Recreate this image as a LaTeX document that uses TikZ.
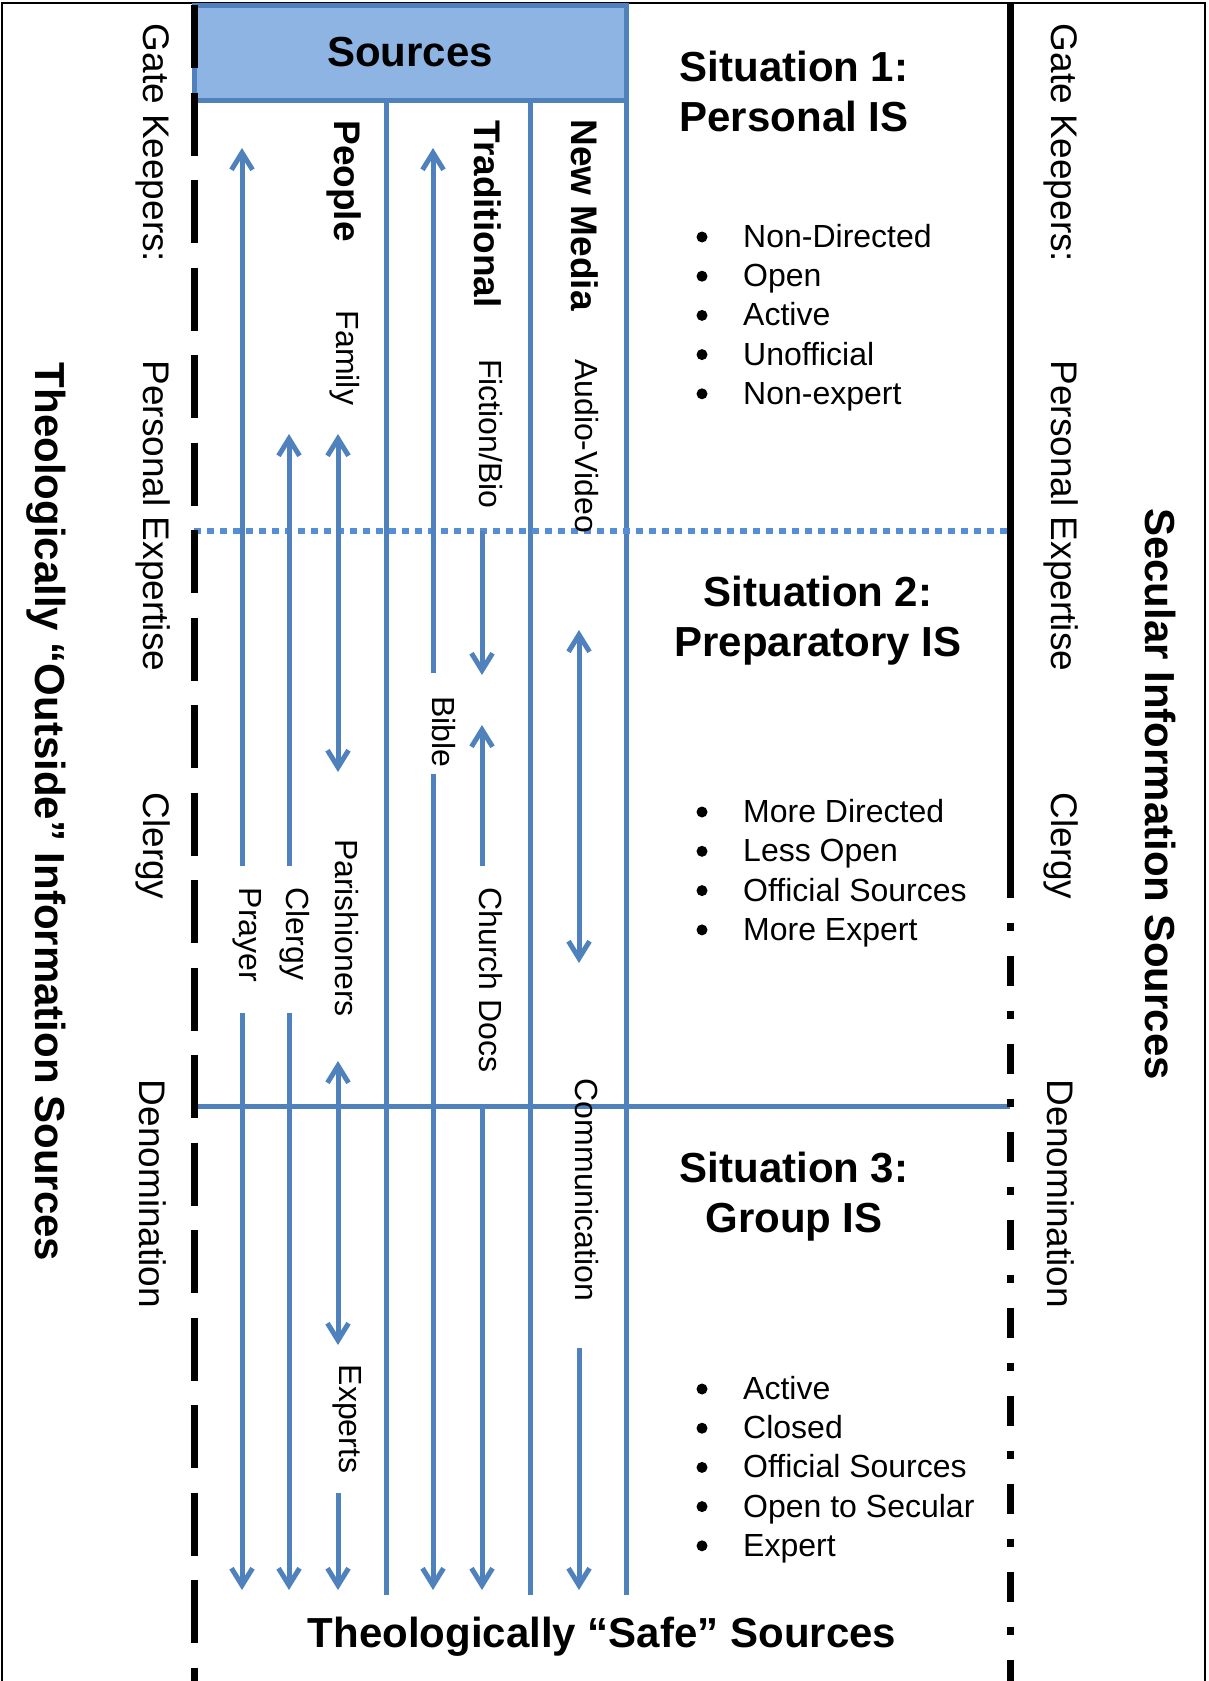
\documentclass[tikz,border=0pt]{standalone}
\usepackage{fontspec}
\setmainfont{Liberation Sans}
\usetikzlibrary{arrows.meta}
\definecolor{isblue}{RGB}{79,129,189}
\definecolor{islight}{RGB}{142,180,227}
\definecolor{isdot}{RGB}{85,142,213}

\begin{document}
\begin{tikzpicture}[x=1pt,y=-1pt,
  flow/.style={draw=isblue, line width=5pt},
  tip/.style={-{Straight Barb[length=17pt,width=21pt]}},
  both/.style={{Straight Barb[length=17pt,width=21pt]}-{Straight Barb[length=17pt,width=21pt]}},
  gate/.style={rotate=-90, inner sep=0pt, font=\fontsize{37}{40}\selectfont},
  src/.style={rotate=-90, inner sep=0pt, font=\fontsize{32}{36}\selectfont},
  head/.style={rotate=-90, inner sep=0pt, font=\fontsize{37}{40}\selectfont\bfseries},
  side/.style={rotate=-90, inner sep=0pt, font=\fontsize{42}{48}\selectfont\bfseries},
  title/.style={align=center, inner sep=0pt, font=\fontsize{42}{50}\selectfont\bfseries},
  item/.style={anchor=base west, inner sep=0pt, font=\fontsize{32}{38}\selectfont}]
\useasboundingbox (0,0) rectangle (1208,1681);

% frame
\draw[line width=2pt] (2,1681) -- (2,3) -- (1205,3) -- (1205,1681);

% sources header and columns
\node[draw=isblue, fill=islight, line width=5pt, outer sep=0pt, inner sep=0pt,
  minimum width=432pt, minimum height=95pt, anchor=north west,
  font=\fontsize{42}{48}\selectfont\bfseries] (sources) at (194,5) {Sources};
\foreach \x in {386,530}
  \draw[flow] (\x,100) -- (\x,1595);
\draw[flow] (sources.north east) -- (626,1595);

% situation borders
\draw[isdot, line width=6pt, dash pattern=on 7pt off 6pt] (194,531) -- (1010,531);
\draw[flow] (194,1106) -- (1010,1106);

% gate keeper lines
\draw[line width=7pt, dash pattern=on 63pt off 24.5pt] (194,5) -- (194,1681);
\draw[line width=7pt] (1010,3) -- (1010,898);
\draw[line width=7pt, dash pattern=on 8pt off 25pt on 30pt off 25pt] (1010,923) -- (1010,1681);

% gate keepers
\foreach \x/\s in {153/l,1061/r} {
  \node[gate] (gk-\s) at (\x,143) {Gate Keepers:};
  \node[gate] (pe-\s) at (\x,516) {Personal Expertise};
  \node[gate] (cl-\s) at (\x,846) {Clergy};
  \node[gate] (de-\s) at (\x,1194) {Denomination};
}
\node[side] (outside) at (46,812) {Theologically “Outside” Information Sources};
\node[side] (secular) at (1160,794) {Secular Information Sources};
\node[font=\fontsize{42}{48}\selectfont\bfseries, inner sep=0pt] (safe) at (602,1637) {Theologically “Safe” Sources};

% source labels
\node[head] (people) at (344,181) {People};
\node[head] (trad) at (488,214) {Traditional};
\node[head] (newmedia) at (585,215) {New Media};
\node[src] (prayer) at (247,935) {Prayer};
\node[src] (clergy) at (295,934) {Clergy};
\node[src] (family) at (345,358) {Family};
\node[src] (parish) at (347,928) {Parishioners};
\node[src] (experts) at (347,1419) {Experts};
\node[src] (bible) at (444,732) {Bible};
\node[src] (fiction) at (491,434) {Fiction/Bio};
\node[src] (churchdocs) at (491,980) {Church Docs};
\node[src] (audio) at (587,446) {Audio-Video};
\node[src] (comm) at (587,1190) {Communication};

% arrow ends
\foreach \n/\x/\y in {pr-t/242/148, pr-m/242/866, pr-n/242/1013, pr-b/242/1590,
    cl-t/289/434, cl-m/289/866, cl-n/289/1013, cl-b/289/1590,
    pa-t/338/434, pa-m/338/772, pa-n/338/1061, pa-o/338/1345, pa-p/338/1493, pa-b/338/1590,
    bi-t/433/148, bi-m/433/673, bi-n/433/774, bi-b/433/1590,
    ch-t/482/531, ch-m/482/675, ch-n/482/725, ch-o/482/866, ch-p/482/1106, ch-b/482/1590,
    co-t/579/630, co-m/579/963, co-n/579/1348, co-b/579/1590}
  \coordinate (\n) at (\x,\y);

\draw[flow,tip] (pr-m) -- (pr-t);
\draw[flow,tip] (pr-n) -- (pr-b);
\draw[flow,tip] (cl-m) -- (cl-t);
\draw[flow,tip] (cl-n) -- (cl-b);
\draw[flow,both] (pa-t) -- (pa-m);
\draw[flow,both] (pa-n) -- (pa-o);
\draw[flow,tip] (pa-p) -- (pa-b);
\draw[flow,tip] (bi-m) -- (bi-t);
\draw[flow,tip] (bi-n) -- (bi-b);
\draw[flow,tip] (ch-t) -- (ch-m);
\draw[flow,tip] (ch-o) -- (ch-n);
\draw[flow,tip] (ch-p) -- (ch-b);
\draw[flow,both] (co-t) -- (co-m);
\draw[flow,tip] (co-n) -- (co-b);

% situations
\node[title] (sit1) at (794,91) {Situation 1:\\Personal IS};
\node[title] (sit2) at (818,621) {Situation 2:\\Preparatory IS};
\node[title] (sit3) at (794,1197) {Situation 3:\\Group IS};

\foreach \t [count=\i] in {Non-Directed, Open, Active, Unofficial, Non-expert} {
  \fill (702,{237+39.2*(\i-1)}) circle (5.5pt);
  \node[item] (s1-\i) at (743,{247.5+39.2*(\i-1)}) {\t};
}
\foreach \t [count=\i] in {More Directed, Less Open, Official Sources, More Expert} {
  \fill (702,{812+39.3*(\i-1)}) circle (5.5pt);
  \node[item] (s2-\i) at (743,{822.5+39.3*(\i-1)}) {\t};
}
\foreach \t [count=\i] in {Active, Closed, Official Sources, Open to Secular, Expert} {
  \fill (702,{1389+39.2*(\i-1)}) circle (5.5pt);
  \node[item] (s3-\i) at (743,{1399.5+39.2*(\i-1)}) {\t};
}
\end{tikzpicture}
\end{document}
